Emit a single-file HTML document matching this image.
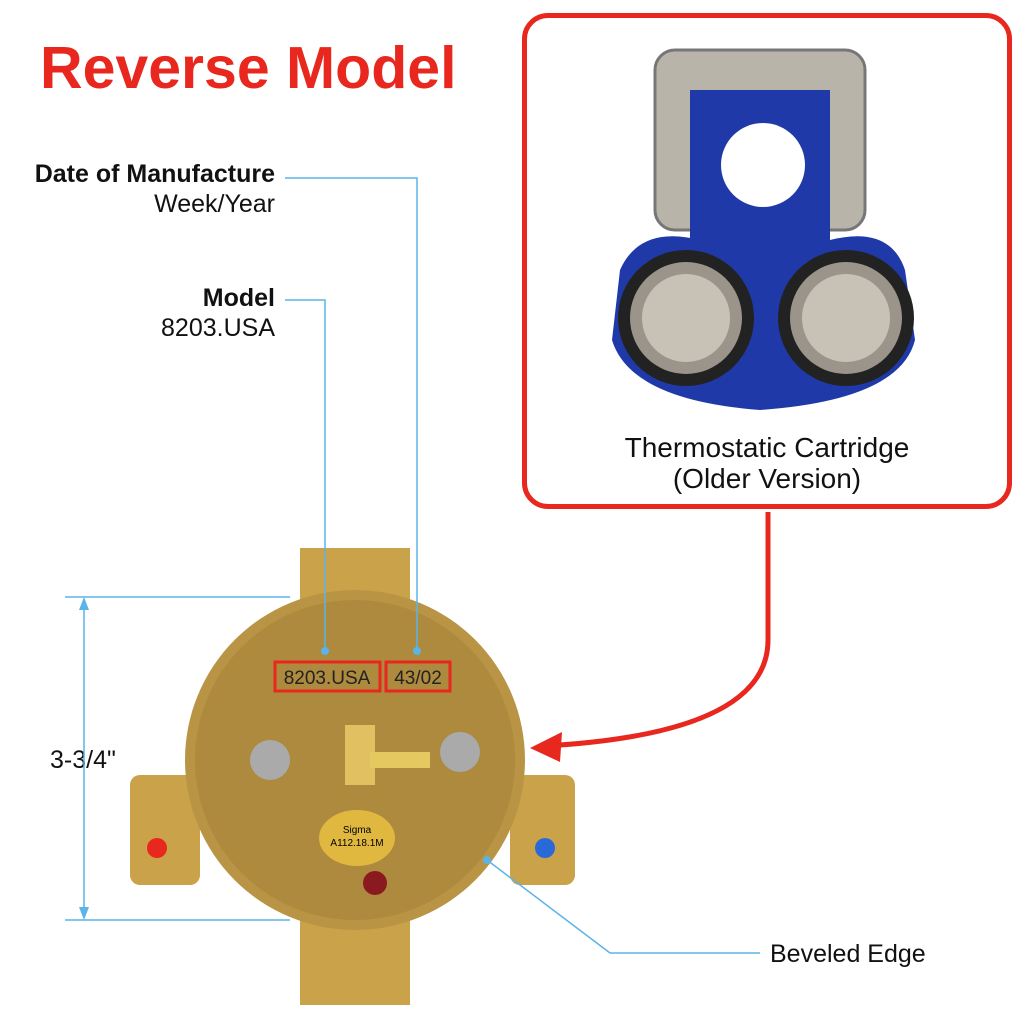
<!DOCTYPE html>
<html><head><style>
body{margin:0;width:1024px;height:1024px;background:#fff;position:relative;overflow:hidden;font-family:"Liberation Sans",sans-serif}
.t{position:absolute;font-size:25px;color:#111;white-space:nowrap}
</style></head><body>
<div style="position:absolute;left:40px;top:34px;font-size:59px;color:#e8281e;font-weight:bold">Reverse Model</div>
<div class="t" style="right:749px;top:160px;font-weight:bold">Date of Manufacture</div>
<div class="t" style="right:749px;top:190px">Week/Year</div>
<div class="t" style="right:749px;top:284px;font-weight:bold">Model</div>
<div class="t" style="right:749px;top:314px">8203.USA</div>
<div class="t" style="left:50px;top:746px">3-3/4"</div>
<div class="t" style="left:770px;top:940px">Beveled Edge</div>
<div style="position:absolute;left:522px;top:13px;width:480px;height:486px;border:5px solid #e8281e;border-radius:26px"></div>
<div class="t" style="left:527px;width:480px;text-align:center;top:432px;font-size:28px;line-height:31px">Thermostatic Cartridge<br>(Older Version)</div>
<svg width="1024" height="1024" style="position:absolute;left:0;top:0">
<rect x="655" y="50" width="210" height="180" rx="20" fill="#b8b4aa" stroke="#777" stroke-width="3"/>
<rect x="690" y="90" width="140" height="170" fill="#1f3aa8"/>
<circle cx="763" cy="165" r="42" fill="#fff"/>
<path d="M620 270 Q640 225 700 240 L830 240 Q890 225 905 270 L915 340 Q900 400 760 410 Q630 400 612 340Z" fill="#1f3aa8"/>
<circle cx="686" cy="318" r="68" fill="#222"/><circle cx="686" cy="318" r="56" fill="#9a948a"/><circle cx="686" cy="318" r="44" fill="#c8c2b6"/>
<circle cx="846" cy="318" r="68" fill="#222"/><circle cx="846" cy="318" r="56" fill="#9a948a"/><circle cx="846" cy="318" r="44" fill="#c8c2b6"/>
<path d="M768 512 L768 640 Q768 730 560 745" fill="none" stroke="#e8281e" stroke-width="5"/>
<polygon points="530,748 562,732 560,762" fill="#e8281e"/>
<rect x="300" y="548" width="110" height="60" fill="#c9a24a"/>
<rect x="300" y="910" width="110" height="95" fill="#c9a24a"/>
<rect x="130" y="775" width="70" height="110" rx="10" fill="#c9a24a"/>
<rect x="510" y="775" width="65" height="110" rx="10" fill="#c9a24a"/>
<circle cx="355" cy="760" r="170" fill="#b89444"/>
<circle cx="355" cy="760" r="160" fill="#ad8a3e"/>
<circle cx="157" cy="848" r="10" fill="#e8281e"/><circle cx="545" cy="848" r="10" fill="#2a6ad8"/>
<rect x="275" y="662" width="105" height="29" fill="none" stroke="#e8281e" stroke-width="3"/>
<rect x="386" y="662" width="64" height="29" fill="none" stroke="#e8281e" stroke-width="3"/>
<text x="327" y="684" font-size="19" font-family="Liberation Sans" text-anchor="middle" fill="#222">8203.USA</text>
<text x="418" y="684" font-size="19" font-family="Liberation Sans" text-anchor="middle" fill="#222">43/02</text>
<circle cx="270" cy="760" r="20" fill="#aaa"/><circle cx="460" cy="752" r="20" fill="#aaa"/>
<rect x="345" y="725" width="30" height="60" fill="#e0c060"/>
<rect x="370" y="752" width="60" height="16" fill="#e6c860"/>
<ellipse cx="357" cy="838" rx="38" ry="28" fill="#e0b840"/>
<text x="357" y="833" font-size="10" text-anchor="middle" font-family="Liberation Sans">Sigma</text>
<text x="357" y="846" font-size="10" text-anchor="middle" font-family="Liberation Sans">A112.18.1M</text>
<circle cx="375" cy="883" r="12" fill="#8a1a20"/>
<g stroke="#5ab4e8" stroke-width="1.5" fill="none">
<path d="M285 178 H417 V650"/><path d="M285 300 H325 V650"/>
<path d="M65 597 H290 M65 920 H290 M84 600 V917"/>
<path d="M487 860 L610 953 H760"/>
</g>
<g fill="#5ab4e8"><circle cx="417" cy="651" r="4"/><circle cx="325" cy="651" r="4"/><circle cx="487" cy="860" r="4"/>
<polygon points="84,597 79,610 89,610"/><polygon points="84,920 79,907 89,907"/></g>
</svg>
</body></html>
